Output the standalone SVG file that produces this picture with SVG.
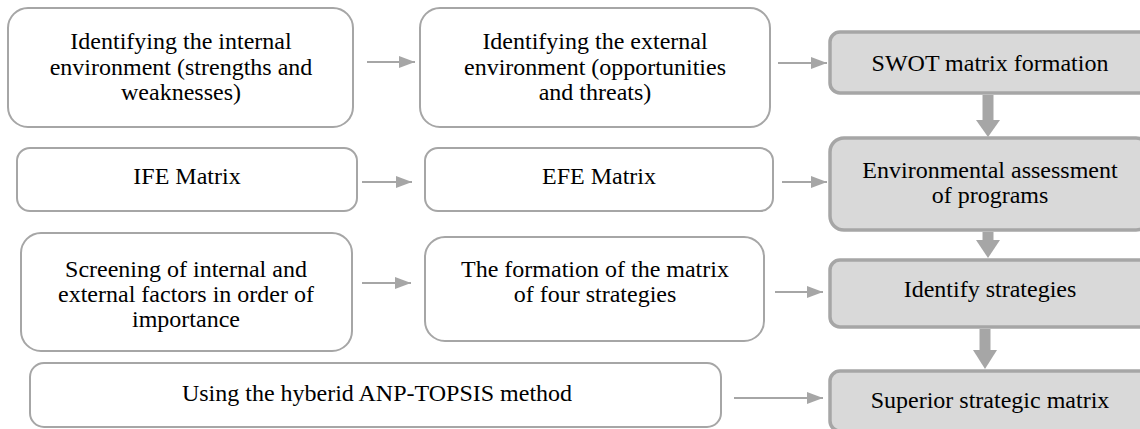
<svg xmlns="http://www.w3.org/2000/svg" width="1140" height="429" viewBox="0 0 1140 429">
<style>
.w{fill:#fff;stroke:#a6a6a6;stroke-width:2}
.g{fill:#d9d9d9;stroke:#a6a6a6;stroke-width:3.5}
text{font-size:24px;fill:#000;text-anchor:middle}
.c line{stroke:#a6a6a6;stroke-width:1.8}
.c path{fill:#a6a6a6}
.c .t{stroke:#a6a6a6;stroke-width:11}
</style>
<defs>
<marker id="ah" viewBox="0 0 16 12" refX="16" refY="6" markerWidth="16" markerHeight="12" markerUnits="userSpaceOnUse" orient="auto"><path d="M0,0L16,6L0,12Z" fill="#a6a6a6"/></marker>
</defs>
<g font-family="'Liberation Serif', 'Times New Roman', serif">
<g id="n1"><rect class="w" x="8" y="8" width="345" height="119" rx="20"/><text x="181" y="49">Identifying the internal</text><text x="181" y="75">environment (strengths and</text><text x="181" y="100">weaknesses)</text></g>
<g id="n2"><rect class="w" x="420" y="8" width="350" height="119" rx="20"/><text x="595" y="49">Identifying the external</text><text x="595" y="75">environment (opportunities</text><text x="595" y="100">and threats)</text></g>
<g id="n3"><rect class="g" x="830" y="32" width="320" height="61" rx="10"/><text x="990" y="71">SWOT matrix formation</text></g>
<g id="n4"><rect class="w" x="17" y="148" width="340" height="63" rx="13"/><text x="187" y="184">IFE Matrix</text></g>
<g id="n5"><rect class="w" x="425" y="148" width="348" height="63" rx="13"/><text x="599" y="184">EFE Matrix</text></g>
<g id="n6"><rect class="g" x="830" y="138" width="320" height="92" rx="14"/><text x="990" y="178">Environmental assessment</text><text x="990" y="203">of programs</text></g>
<g id="n7"><rect class="w" x="21" y="233" width="331" height="118" rx="20"/><text x="186" y="277">Screening of internal and</text><text x="186" y="302">external factors in order of</text><text x="186" y="327">importance</text></g>
<g id="n8"><rect class="w" x="425" y="237" width="339" height="104" rx="20"/><text x="595" y="277">The formation of the matrix</text><text x="595" y="302">of four strategies</text></g>
<g id="n9"><rect class="g" x="830" y="260" width="320" height="67" rx="10"/><text x="990" y="297">Identify strategies</text></g>
<g id="n10"><rect class="w" x="30" y="363" width="691" height="64" rx="14"/><text x="377" y="401">Using the hyberid ANP-TOPSIS method</text></g>
<g id="n11"><rect class="g" x="830" y="371" width="320" height="60" rx="10"/><text x="990" y="408">Superior strategic matrix</text></g>
</g>
<g class="c" id="connectors">
<line x1="367" y1="62" x2="415" y2="62" marker-end="url(#ah)"/>
<line x1="778" y1="63" x2="827" y2="63" marker-end="url(#ah)"/>
<line x1="362" y1="182" x2="412" y2="182" marker-end="url(#ah)"/>
<line x1="782" y1="182" x2="827" y2="182" marker-end="url(#ah)"/>
<line x1="362" y1="283" x2="411" y2="283" marker-end="url(#ah)"/>
<line x1="775" y1="292" x2="823" y2="292" marker-end="url(#ah)"/>
<line x1="734" y1="398" x2="823" y2="398" marker-end="url(#ah)"/>
<line class="t" x1="988" y1="95" x2="988" y2="122"/><path d="M976,120L1000,120L988,137Z"/>
<line class="t" x1="988" y1="232" x2="988" y2="242"/><path d="M976,240L1000,240L988,258Z"/>
<line class="t" x1="985" y1="329" x2="985" y2="352"/><path d="M973,350L997,350L985,369Z"/>
</g>
</svg>
